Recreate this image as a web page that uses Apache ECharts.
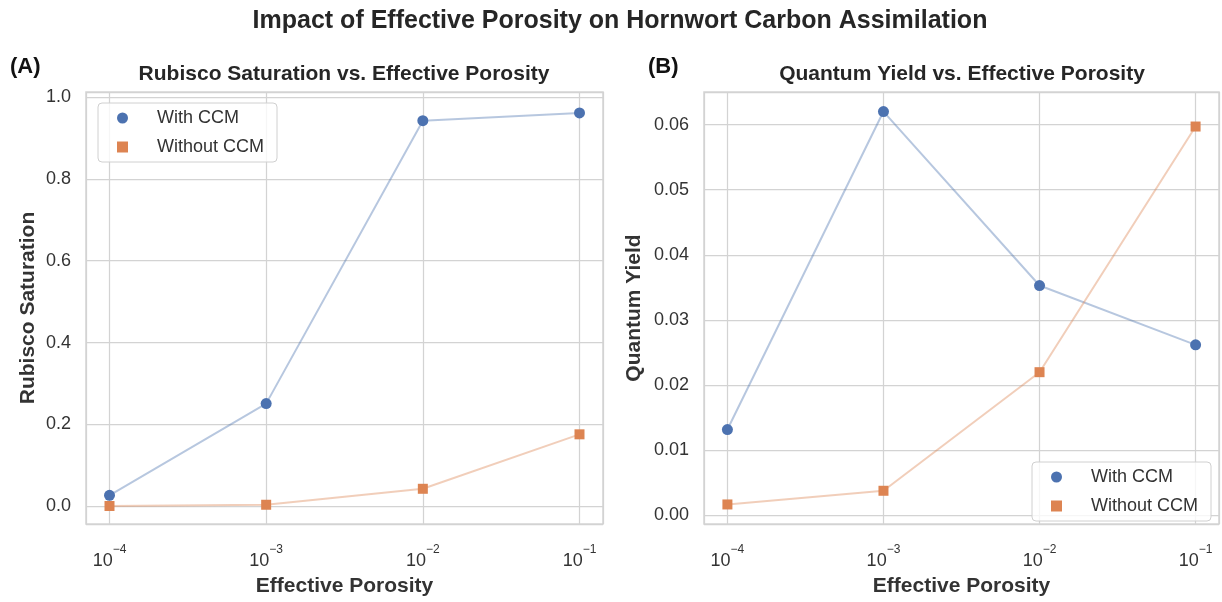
<!DOCTYPE html>
<html>
<head>
<meta charset="utf-8">
<style>
  html, body { margin: 0; padding: 0; background: #ffffff; }
  #chart { width: 1222px; height: 602px; }
</style>
<script src="https://cdn.jsdelivr.net/npm/echarts@6/dist/echarts.min.js"></script>
</head>
<body>
<div id="chart"></div>
<script>
// Effective porosity levels (log scale)
const porosity = [1e-4, 1e-3, 1e-2, 1e-1];

// Panel A: Rubisco saturation
const rubiscoWithCCM = [0.027, 0.251, 0.942, 0.961];
const rubiscoWithoutCCM = [0.001, 0.004, 0.043, 0.176];

// Panel B: quantum yield
const yieldWithCCM = [0.0132, 0.0620, 0.0353, 0.0262];
const yieldWithoutCCM = [0.0017, 0.0038, 0.0220, 0.0597];

const seriesNames = ['With CCM', 'Without CCM'];
const panelTitles = ['Rubisco Saturation vs. Effective Porosity', 'Quantum Yield vs. Effective Porosity'];
const panelTags = ['(A)', '(B)'];
const yNames = ['Rubisco Saturation', 'Quantum Yield'];
const xName = 'Effective Porosity';
const mainTitle = 'Impact of Effective Porosity on Hornwort Carbon Assimilation';

const FONT = '"Liberation Sans", Arial, Helvetica, sans-serif';
const BLUE = '#4c72b0';
const ORANGE = '#dd8452';
const GRID = '#d3d3d3';
const TEXT = '#333333';

const pairs = (xs, ys) => xs.map((x, i) => [x, ys[i]]);

// "10" with a raised exponent for each decade tick
function decadeLabel(v) {
  const e = Math.log10(v);
  const r = Math.round(e);
  if (Math.abs(e - r) > 1e-6) return '';
  return '{b|10}{s|' + (r < 0 ? '\u2212' : '') + Math.abs(r) + '}';
}

function stepLabel(step, digits) {
  return function (v) {
    const k = v / step;
    if (Math.abs(k - Math.round(k)) > 1e-6) return '';
    return (Math.round(k) * step).toFixed(digits);
  };
}

const grids = [
  { left: 86, top: 92, width: 517, height: 436 },
  { left: 704, top: 92, width: 516, height: 436 }
];

function xAxisFor(i) {
  return {
    type: 'log',
    gridIndex: i,
    logBase: 10,
    min: Math.pow(10, -4.15),
    max: Math.pow(10, -0.85),
    name: xName,
    nameLocation: 'middle',
    nameGap: 52,
    nameTextStyle: { fontFamily: FONT, fontSize: 21, fontWeight: 'bold', color: TEXT },
    axisLine: { show: false },
    axisTick: { show: false },
    minorTick: { show: false },
    splitLine: { show: true, lineStyle: { color: GRID, width: 1.25 } },
    axisLabel: {
      margin: 20,
      formatter: decadeLabel,
      rich: {
        b: { fontFamily: FONT, fontSize: 18, color: TEXT, lineHeight: 26, verticalAlign: 'bottom' },
        s: { fontFamily: FONT, fontSize: 12, color: TEXT, lineHeight: 12, verticalAlign: 'top' }
      }
    }
  };
}

function yAxisFor(i, min, max, step, digits, gap) {
  return {
    type: 'value',
    gridIndex: i,
    min: min,
    max: max,
    splitNumber: 5,
    name: yNames[i],
    nameLocation: 'middle',
    nameGap: gap,
    nameTextStyle: { fontFamily: FONT, fontSize: 21, fontWeight: 'bold', color: TEXT },
    axisLine: { show: false },
    axisTick: { show: false },
    splitLine: { show: true, lineStyle: { color: GRID, width: 1.25 } },
    axisLabel: {
      margin: 15,
      fontFamily: FONT,
      fontSize: 18,
      color: TEXT,
      formatter: stepLabel(step, digits)
    }
  };
}

function lineSeries(name, i, ys, color, symbol, size) {
  return {
    name: name,
    type: 'line',
    xAxisIndex: i,
    yAxisIndex: i,
    data: pairs(porosity, ys),
    symbol: symbol,
    symbolSize: size,
    showAllSymbol: true,
    itemStyle: { color: color, opacity: 1 },
    lineStyle: { color: color, width: 2, opacity: 0.4 },
    emphasis: { disabled: true },
    silent: true
  };
}

function legendAt(left, top) {
  return {
    orient: 'vertical',
    left: left,
    top: top,
    padding: [5, 13, 5, 19],
    itemGap: 9,
    itemWidth: 11,
    itemHeight: 11,
    selectedMode: false,
    backgroundColor: 'rgba(255,255,255,0.8)',
    borderColor: '#d0d0d0',
    borderWidth: 1,
    borderRadius: 4,
    textStyle: { fontFamily: FONT, fontSize: 18, color: TEXT, lineHeight: 20, padding: [0, 0, 0, 24] },
    data: [
      { name: seriesNames[0], icon: 'circle' },
      { name: seriesNames[1], icon: 'rect' }
    ]
  };
}

const chart = echarts.init(document.getElementById('chart'), null, { renderer: 'canvas' });

chart.setOption({
  animation: false,
  backgroundColor: '#ffffff',
  title: [
    { text: mainTitle, left: 620, top: 9, padding: 0, textAlign: 'center',
      textStyle: { fontFamily: FONT, fontSize: 25, fontWeight: 'bold', color: '#262626' } },
    { text: panelTitles[0], left: 344, top: 64, padding: 0, textAlign: 'center',
      textStyle: { fontFamily: FONT, fontSize: 21, fontWeight: 'bold', color: '#262626' } },
    { text: panelTitles[1], left: 962, top: 64, padding: 0, textAlign: 'center',
      textStyle: { fontFamily: FONT, fontSize: 21, fontWeight: 'bold', color: '#262626' } },
    { text: panelTags[0], left: 10, top: 56, padding: 0,
      textStyle: { fontFamily: FONT, fontSize: 22, fontWeight: 'bold', color: '#111111' } },
    { text: panelTags[1], left: 648, top: 56, padding: 0,
      textStyle: { fontFamily: FONT, fontSize: 22, fontWeight: 'bold', color: '#111111' } }
  ],
  grid: grids.map(g => Object.assign({ show: true, borderColor: GRID, borderWidth: 1.5, backgroundColor: 'transparent', containLabel: false }, g)),
  xAxis: [xAxisFor(0), xAxisFor(1)],
  yAxis: [
    yAxisFor(0, -0.043, 1.012, 0.2, 1, 47),
    yAxisFor(1, -0.0013, 0.065, 0.01, 2, 59)
  ],
  legend: [legendAt(98, 103), legendAt(1032, 462)],
  series: [
    lineSeries(seriesNames[0], 0, rubiscoWithCCM, BLUE, 'circle', 11),
    lineSeries(seriesNames[1], 0, rubiscoWithoutCCM, ORANGE, 'rect', 10),
    lineSeries(seriesNames[0], 1, yieldWithCCM, BLUE, 'circle', 11),
    lineSeries(seriesNames[1], 1, yieldWithoutCCM, ORANGE, 'rect', 10)
  ]
});
</script>
</body>
</html>
